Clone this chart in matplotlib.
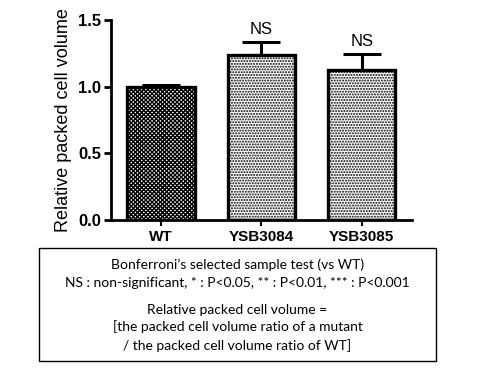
import numpy as np
import matplotlib.pyplot as plt
from matplotlib.patches import Rectangle

plt.rcParams['hatch.linewidth'] = 1.0

strains = ["WT", "YSB3084", "YSB3085"]
means = [1.0, 1.235, 1.125]
errors = [0.01, 0.10, 0.12]
marks = ["", "NS", "NS"]
hatches = ["xxxxxxxx", "......", "......"]

note_lines = [
    "Bonferroni\u2019s selected sample test (vs WT)",
    "NS : non-significant, * : P<0.05, ** : P<0.01, *** : P<0.001",
    "Relative packed cell volume =",
    "[the packed cell volume ratio of a mutant",
    "/ the packed cell volume ratio of WT]",
]
note_y = [265, 283, 310, 327, 346]

fig = plt.figure(figsize=(4.8, 3.7), dpi=100)
ax = fig.add_axes([0.231, 0.4054, 0.627, 0.5406])

x = np.arange(len(strains))
ax.bar(x, means, width=0.67, color="white", edgecolor="black",
       linewidth=2.4, hatch=hatches, zorder=2)
ax.errorbar(x, means, yerr=[np.zeros(len(errors)), errors], fmt="none",
            ecolor="black", elinewidth=2.2, capsize=13.5, capthick=2.2, zorder=1)

for xi, m, e, lab in zip(x, means, errors, marks):
    if lab:
        ax.text(xi, m + e + 0.035, lab, ha="center", va="bottom",
                fontsize=12, family="Liberation Sans")

ax.set_xlim(-0.5, 2.5)
ax.set_ylim(0, 1.5)
ax.set_yticks([0.0, 0.5, 1.0, 1.5])
ax.set_yticklabels(["0.0", "0.5", "1.0", "1.5"], fontsize=12,
                   fontweight="bold", family="Liberation Sans")
ax.set_xticks(x)
ax.set_xticklabels(strains, fontsize=11, fontweight="bold", family="Liberation Sans")
ax.set_ylabel("Relative packed cell volume", fontsize=13, family="Liberation Sans",
              labelpad=4)

for side in ["top", "right"]:
    ax.spines[side].set_visible(False)
for side in ["left", "bottom"]:
    ax.spines[side].set_linewidth(2.0)
ax.tick_params(axis="y", width=2.0, length=5, pad=2)
ax.tick_params(axis="x", width=1.5, length=4, pad=3)

fig.patches.append(Rectangle((39 / 480, 1 - 361 / 370), 397 / 480, 113 / 370,
                             transform=fig.transFigure, fill=False,
                             edgecolor="black", linewidth=1.0))
for line, yy in zip(note_lines, note_y):
    fig.text(237.5 / 480, 1 - yy / 370, line, ha="center", va="center",
             fontsize=10, family="Lato")

fig.savefig("out.png", dpi=100)
